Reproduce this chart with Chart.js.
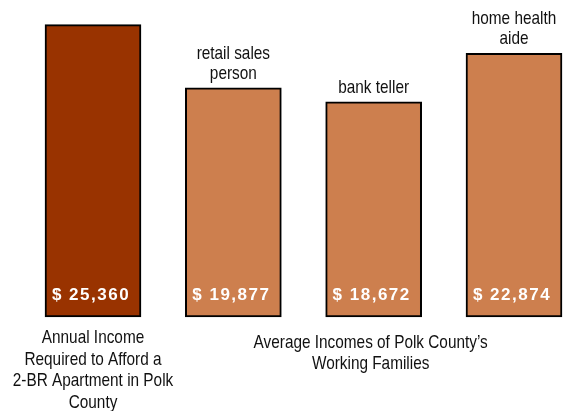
<!DOCTYPE html>
<html>
<head>
<meta charset="utf-8">
<script src="https://cdn.jsdelivr.net/npm/chart.js@4"></script>
<style>
  html, body { margin: 0; padding: 0; background: #fff; }
  #wrap { width: 571px; height: 411px; }
</style>
</head>
<body>
<div id="wrap"><canvas id="incomeChart" width="571" height="411"></canvas></div>
<script>
// data
const categories = ['required', 'retail sales person', 'bank teller', 'home health aide'];
const incomes = [25360, 19877, 18672, 22874];
const valueLabels = ['$ 25,360', '$ 19,877', '$ 18,672', '$ 22,874'];
const topLabels = [[], ['retail sales', 'person'], ['bank teller'], ['home health', 'aide']];
const groupLabels = [
  ['Annual Income', 'Required to Afford a', '2-BR Apartment in Polk', 'County'],
  ["Average Incomes of Polk County\u2019s", 'Working Families']
];
const barColors = ['#993300', '#CD7F4E', '#CD7F4E', '#CD7F4E'];

// Arial Narrow 비슷하게: 가로로 눌러서 그림
function narrowText(ctx, text, x, y) {
  ctx.save();
  ctx.translate(x, y);
  ctx.scale(0.83, 1);
  ctx.fillText(text, 0, 0);
  ctx.restore();
}

const textPlugin = {
  id: 'textPlugin',
  afterDatasetsDraw(chart) {
    const ctx = chart.ctx;
    const bars = chart.getDatasetMeta(0).data;
    ctx.save();
    ctx.textAlign = 'center';
    ctx.textBaseline = 'middle';

    // values inside bars
    ctx.fillStyle = '#ffffff';
    ctx.font = "bold 17px 'Liberation Sans', Arial, sans-serif";
    ctx.letterSpacing = '1.5px';
    bars.forEach(function (bar, i) {
      ctx.fillText(valueLabels[i], bar.x - 2, bar.base - 22);
    });
    ctx.letterSpacing = '0px';

    // job names above bars
    ctx.fillStyle = '#111111';
    ctx.font = "18.5px 'Liberation Sans', Arial, sans-serif";
    bars.forEach(function (bar, i) {
      const lines = topLabels[i];
      lines.forEach(function (line, j) {
        narrowText(ctx, line, bar.x, bar.y - 14 - (lines.length - 1 - j) * 20);
      });
    });

    // group captions below
    const base = bars[0].base;
    groupLabels[0].forEach(function (line, j) {
      narrowText(ctx, line, bars[0].x, base + 21 + j * 21.5);
    });
    const midX = (bars[1].x + bars[3].x) / 2 - 3;
    groupLabels[1].forEach(function (line, j) {
      narrowText(ctx, line, midX, base + 26 + j * 21);
    });
    ctx.restore();
  }
};

const ctx = document.getElementById('incomeChart').getContext('2d');
const myChart = new Chart(ctx, {
  type: 'bar',
  data: {
    labels: categories,
    datasets: [{
      data: incomes,
      backgroundColor: barColors,
      borderColor: '#000000',
      borderWidth: 2,
      borderSkipped: false,
      barThickness: 96,
      clip: false
    }]
  },
  options: {
    responsive: false,
    animation: false,
    layout: { padding: { left: 93, right: 57, top: 0, bottom: 94 } },
    plugins: { legend: { display: false }, tooltip: { enabled: false } },
    scales: {
      x: { display: false, offset: false },
      y: { display: false, min: 0, max: 27500 }
    }
  },
  plugins: [textPlugin]
});
</script>
</body>
</html>
